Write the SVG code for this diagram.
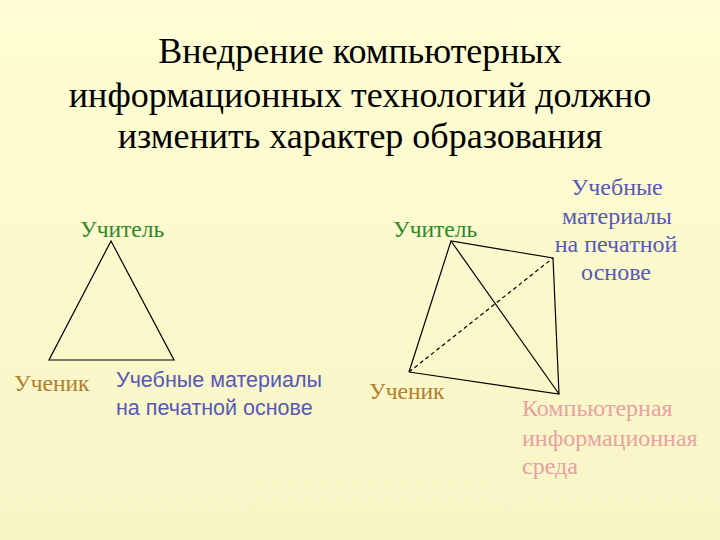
<svg xmlns="http://www.w3.org/2000/svg" width="720" height="540" viewBox="0 0 720 540">
<defs>
<linearGradient id="bg" x1="0" y1="0" x2="0" y2="1">
<stop offset="0" stop-color="#fefdd3"/>
<stop offset="1" stop-color="#f8f4c6"/>
</linearGradient>
<style>
.serif{font-family:"Liberation Serif","Times New Roman",serif}
.sans{font-family:"Liberation Sans",Arial,sans-serif}
.title{font-size:36px;fill:#000;text-anchor:middle}
.t{fill:#2a8a2a;font-size:23.5px}
.s{fill:#b07e2c;font-size:23.5px}
.m{fill:#5858b8;font-size:21.5px}
.m2{fill:#5858b8;font-size:24px}
.c{fill:#e6a2a2;font-size:24px}
.edge{stroke:#000;stroke-width:1.2;fill:none}
</style>
</defs>
<rect width="720" height="540" fill="url(#bg)"/>
<g id="title" class="serif title">
<text x="360" y="63">Внедрение компьютерных</text>
<text x="360" y="107">информационных технологий должно</text>
<text x="360" y="148">изменить характер образования</text>
</g>
<g id="connectors">
<polygon class="edge" points="111,241 49,360 174,360"/>
<polyline class="edge" points="409,372 451,241 553,258 559,394 409,372"/>
<line class="edge" x1="451" y1="241" x2="559" y2="394"/>
<line class="edge" x1="409" y1="372" x2="553" y2="258" stroke-dasharray="4,3"/>
</g>
<g id="teacher1"><text class="serif t" x="80" y="237">Учитель</text></g>
<g id="student1"><text class="serif s" x="14" y="391">Ученик</text></g>
<g id="materials1" class="sans m">
<text x="116" y="387">Учебные материалы</text>
<text x="116" y="415">на печатной основе</text>
</g>
<g id="teacher2"><text class="serif t" x="393" y="237">Учитель</text></g>
<g id="student2"><text class="serif s" x="369" y="399">Ученик</text></g>
<g id="materials2" class="serif m2" text-anchor="middle">
<text x="617" y="195">Учебные</text>
<text x="617" y="224">материалы</text>
<text x="616" y="252">на печатной</text>
<text x="616" y="280">основе</text>
</g>
<g id="computer" class="serif c">
<text x="522" y="416">Компьютерная</text>
<text x="522" y="446">информационная</text>
<text x="522" y="474">среда</text>
</g>
</svg>
